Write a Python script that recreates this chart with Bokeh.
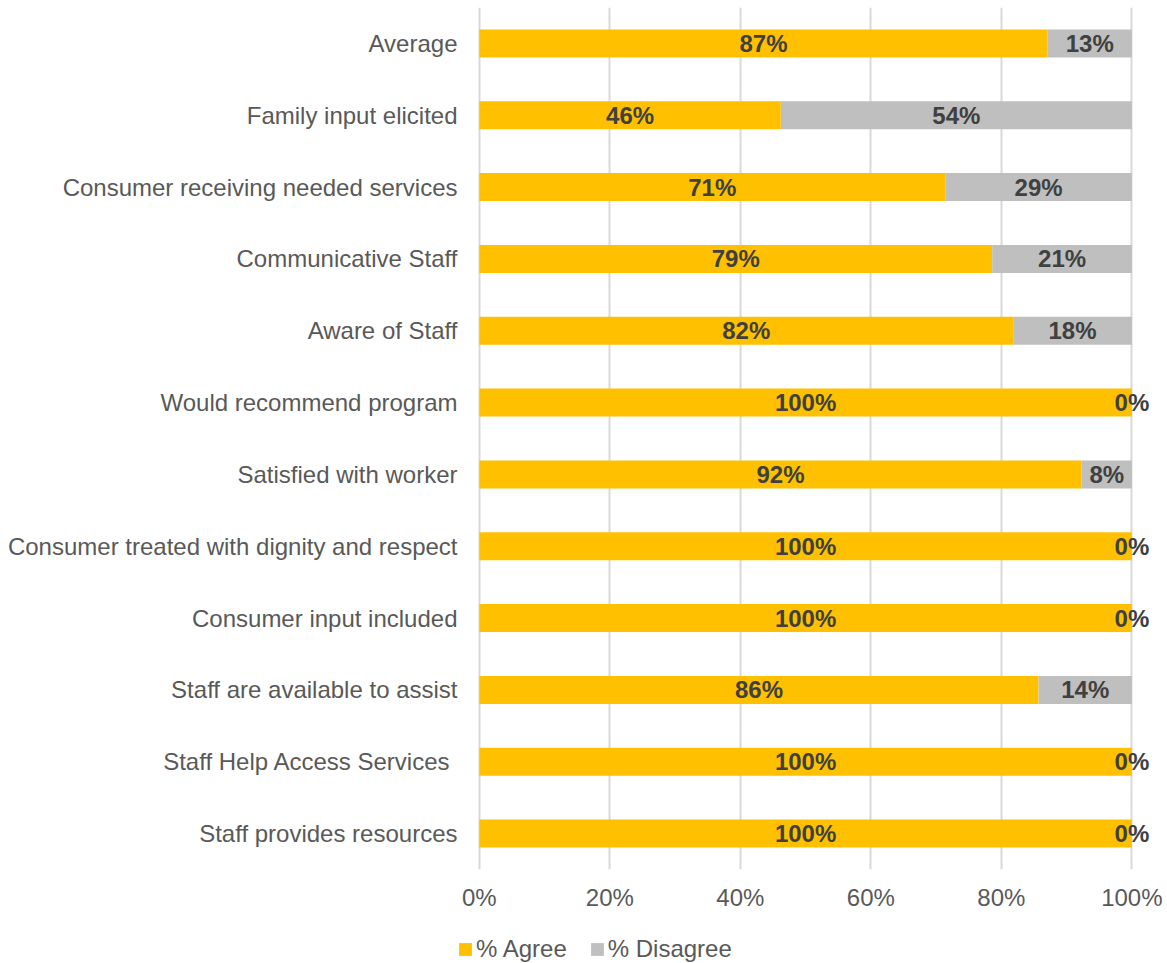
from bokeh.plotting import figure
from bokeh.models import (ColumnDataSource, FactorRange, Range1d, FixedTicker,
                          PrintfTickFormatter, Legend, LegendItem)
from bokeh.layouts import column
from bokeh.core.properties import value
from bokeh.embed import file_html
from bokeh.resources import INLINE

categories = [
    "Average",
    "Family input elicited",
    "Consumer receiving needed services",
    "Communicative Staff",
    "Aware of Staff",
    "Would recommend program",
    "Satisfied with worker",
    "Consumer treated with dignity and respect",
    "Consumer input included",
    "Staff are available to assist",
    "Staff Help Access Services ",
    "Staff provides resources",
]
agree = [87.1, 46.2, 71.4, 78.6, 81.8, 100, 92.3, 100, 100, 85.7, 100, 100]
disagree = [12.9, 53.8, 28.6, 21.4, 18.2, 0, 7.7, 0, 0, 14.3, 0, 0]
x_ticks = [0, 20, 40, 60, 80, 100]
series_names = ["% Agree", "% Disagree"]

YELLOW = "#FFC000"
GRAY = "#BFBFBF"
FONT = "Liberation Sans"

src = ColumnDataSource(dict(
    cat=categories,
    agree=agree,
    disagree=disagree,
    agree_end=agree,
    total=[a + d for a, d in zip(agree, disagree)],
    agree_mid=[a / 2 for a in agree],
    dis_mid=[a + d / 2 for a, d in zip(agree, disagree)],
    agree_lbl=[f"{round(a)}%" for a in agree],
    dis_lbl=[f"{round(d)}%" for d in disagree],
))

# range -3.5..105 keeps the 0 gridline and the "0%" labels at the right end
# inside the frame, and leaves room at the left for the legend below
p = figure(width=1167, height=925, output_backend="svg", toolbar_location=None,
           y_range=FactorRange(factors=list(reversed(categories))),
           x_range=Range1d(-3.5, 105),
           min_border_left=456, min_border_right=3, min_border_top=7,
           min_border_bottom=56)
p.outline_line_color = None

r1 = p.hbar(y="cat", left=0, right="agree_end", height=0.39, source=src,
            fill_color=YELLOW, line_color=None)
r2 = p.hbar(y="cat", left="agree_end", right="total", height=0.39, source=src,
            fill_color=GRAY, line_color=None)

p.text(x="agree_mid", y="cat", text="agree_lbl", source=src,
       text_align="center", text_baseline="middle",
       text_font=value(FONT), text_font_style="bold",
       text_font_size="24px", text_color="#404040")
p.text(x="dis_mid", y="cat", text="dis_lbl", source=src,
       text_align="center", text_baseline="middle",
       text_font=value(FONT), text_font_style="bold",
       text_font_size="24px", text_color="#404040")

p.xaxis.ticker = FixedTicker(ticks=x_ticks)
p.xaxis.formatter = PrintfTickFormatter(format="%d%%")
p.xaxis.axis_line_color = None
p.xaxis.major_tick_line_color = None
p.xaxis.minor_tick_line_color = None
p.xaxis.major_tick_out = 0
p.xaxis.major_tick_in = 0
p.xaxis.minor_tick_out = 0
p.xaxis.major_label_text_font = FONT
p.xaxis.major_label_text_font_size = "24px"
p.xaxis.major_label_text_color = "#595959"
p.xaxis.major_label_standoff = 14

p.yaxis.axis_line_color = None
p.yaxis.major_tick_line_color = None
p.yaxis.minor_tick_line_color = None
p.yaxis.major_tick_out = 0
p.yaxis.major_tick_in = 0
p.yaxis.major_label_text_font = FONT
p.yaxis.major_label_text_font_size = "24px"
p.yaxis.major_label_text_color = "#595959"
p.yaxis.major_label_standoff = -1

p.xgrid.grid_line_color = "#D9D9D9"
p.xgrid.grid_line_width = 2
p.xgrid.ticker = FixedTicker(ticks=x_ticks)
p.ygrid.grid_line_color = None

# legend strip below the chart
lg = figure(width=1167, height=38, output_backend="svg", toolbar_location=None,
            x_range=Range1d(0, 1), y_range=Range1d(0, 1),
            min_border_left=456, min_border_right=3,
            min_border_top=0, min_border_bottom=0)
lg.outline_line_color = None
lg.axis.visible = False
lg.grid.visible = False
dummy = ColumnDataSource(dict(y=[-10], left=[-10], right=[-9]))
l1 = lg.hbar(y="y", left="left", right="right", height=0.5, source=dummy,
             fill_color=YELLOW, line_color=None)
l2 = lg.hbar(y="y", left="left", right="right", height=0.5, source=dummy,
             fill_color=GRAY, line_color=None)
legend = Legend(items=[LegendItem(label=series_names[0], renderers=[l1]),
                       LegendItem(label=series_names[1], renderers=[l2])],
                orientation="horizontal", location=(1, 0),
                glyph_width=16, glyph_height=16, label_standoff=3, spacing=22,
                padding=0, margin=0, border_line_color=None,
                background_fill_alpha=0,
                label_text_font=FONT, label_text_font_size="24px",
                label_text_color="#595959")
lg.add_layout(legend)

open("out.html", "w").write(file_html(column(p, lg, spacing=0), INLINE))
